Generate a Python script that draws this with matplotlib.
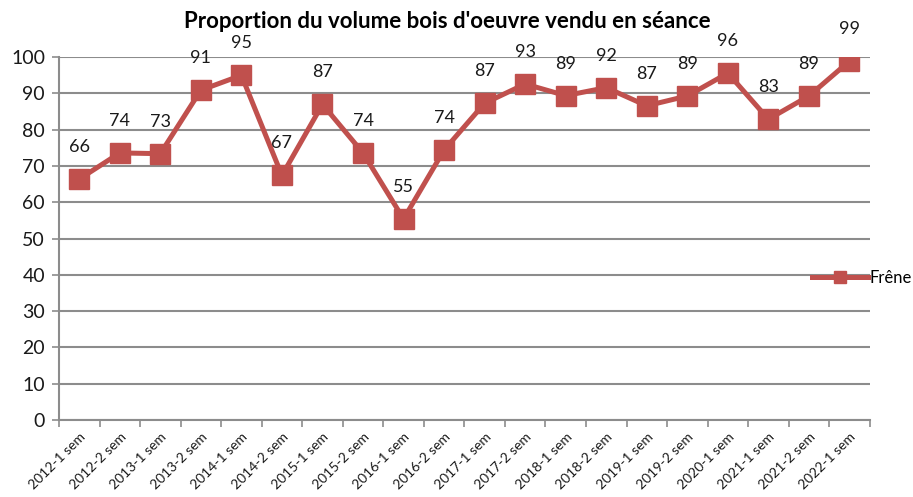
import numpy as np
import matplotlib.pyplot as plt

plt.rcParams['font.family'] = ['Lato', 'DejaVu Sans']

semestres = ['2012-1 sem', '2012-2 sem', '2013-1 sem', '2013-2 sem', '2014-1 sem',
             '2014-2 sem', '2015-1 sem', '2015-2 sem', '2016-1 sem', '2016-2 sem',
             '2017-1 sem', '2017-2 sem', '2018-1 sem', '2018-2 sem', '2019-1 sem',
             '2019-2 sem', '2020-1 sem', '2021-1 sem', '2021-2 sem', '2022-1 sem']
frene = [66.4, 73.6, 73.4, 90.9, 95.0, 67.4, 87.0, 73.6, 55.4, 74.4,
         87.3, 92.6, 89.4, 91.6, 86.6, 89.3, 95.6, 82.9, 89.3, 98.9]

red = '#C0504D'
grey = '#8c8c8c'

fig = plt.figure(figsize=(9.13, 4.97), dpi=100)
ax = fig.add_axes([0.0646, 0.155, 0.888, 0.730])

x = np.arange(len(semestres))
line, = ax.plot(x, frene, color=red, lw=3.6, marker='s', markersize=14,
                markerfacecolor=red, markeredgecolor=red, label='Frêne', zorder=3)

# data labels above points
for xi, v in zip(x, frene):
    ax.annotate('%.0f' % v, (xi, v), xytext=(0, 23), textcoords='offset points',
                ha='center', va='center', fontsize=13, color='#1a1a1a',
                annotation_clip=False)

ax.set_xlim(-0.5, len(semestres) - 0.5)
ax.set_ylim(0, 100)
ax.set_yticks(range(0, 101, 10))
ax.yaxis.grid(True, color=grey, lw=1.5)
ax.set_axisbelow(True)
ax.tick_params(axis='y', labelsize=14, length=5, width=1.2, color=grey, pad=5,
               labelcolor='#1a1a1a')

# category labels at centres, tick marks between categories
ax.set_xticks(x)
ax.set_xticklabels(semestres, rotation=45, ha='right', rotation_mode='anchor',
                   fontsize=10, color='#1a1a1a')
ax.tick_params(axis='x', which='major', length=0, pad=8)
ax.set_xticks(np.arange(-0.5, len(semestres)), minor=True)
ax.tick_params(axis='x', which='minor', length=5, width=1.2, color=grey)

for s in ['top', 'right']:
    ax.spines[s].set_visible(False)
for s in ['left', 'bottom']:
    ax.spines[s].set_color(grey)
    ax.spines[s].set_linewidth(1.5)

fig.text(0.49, 0.957, "Proportion du volume bois d'oeuvre vendu en séance",
         ha='center', va='center', fontsize=16, fontweight='bold')

fig.legend(handles=[line], loc='center left', bbox_to_anchor=(0.889, 0.44),
           frameon=False, fontsize=12, handlelength=3.4, handletextpad=0.05,
           borderaxespad=0, borderpad=0, markerscale=0.65)

fig.savefig('out.png', dpi=100)
